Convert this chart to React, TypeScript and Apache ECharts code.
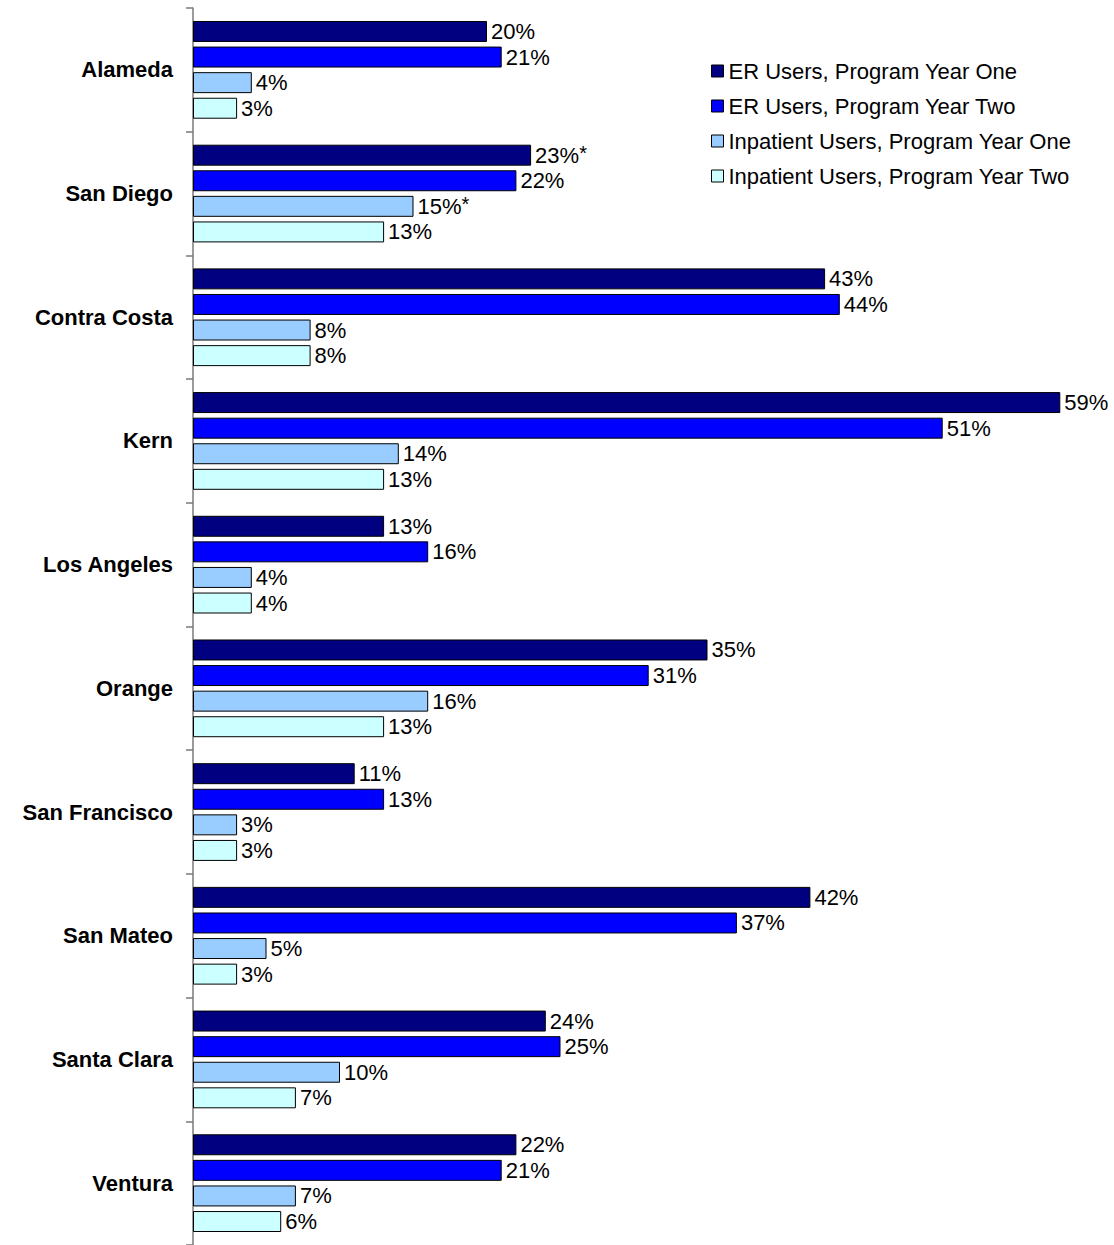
import React, { useEffect, useRef } from "react";
import * as echarts from "echarts";

const categories = [
  "Alameda",
  "San Diego",
  "Contra Costa",
  "Kern",
  "Los Angeles",
  "Orange",
  "San Francisco",
  "San Mateo",
  "Santa Clara",
  "Ventura",
];

const seriesNames = [
  "ER Users, Program Year One",
  "ER Users, Program Year Two",
  "Inpatient Users, Program Year One",
  "Inpatient Users, Program Year Two",
];

const erYearOne = [20, 23, 43, 59, 13, 35, 11, 42, 24, 22];
const erYearTwo = [21, 22, 44, 51, 16, 31, 13, 37, 25, 21];
const inpatientYearOne = [4, 15, 8, 14, 4, 16, 3, 5, 10, 7];
const inpatientYearTwo = [3, 13, 8, 13, 4, 13, 3, 3, 7, 6];

// significance markers: [seriesIndex, categoryIndex]
const starred = [
  [0, 1],
  [2, 1],
];

const colors = ["#000080", "#0000FF", "#99CCFF", "#CCFFFF"];

const FONT = "'Liberation Sans', Arial, sans-serif";

export default function App() {
  const ref = useRef<HTMLDivElement>(null);

  useEffect(() => {
    if (!ref.current) return;
    const chart = echarts.init(ref.current, undefined, { renderer: "svg" });
    const allData = [erYearOne, erYearTwo, inpatientYearOne, inpatientYearTwo];

    const series = allData.map((data, si) => ({
      name: seriesNames[si],
      type: "bar",
      data,
      barCategoryGap: "21%",
      barGap: "22%",
      itemStyle: { color: colors[si], borderColor: "#000", borderWidth: 1 },
      label: {
        show: true,
        position: "right",
        distance: 4,
        color: "#000",
        fontFamily: FONT,
        fontSize: 22,
        formatter: (p: any) => {
          const isStar = starred.some(([s, c]) => s === si && c === p.dataIndex);
          return isStar ? `{v|${p.value}%}{s|*}` : `{v|${p.value}%}`;
        },
        rich: {
          v: { fontFamily: FONT, fontSize: 22, color: "#000", lineHeight: 24 },
          s: {
            fontFamily: FONT,
            fontSize: 20,
            color: "#000",
            verticalAlign: "top",
            lineHeight: 10,
          },
        },
      },
    }));

    chart.setOption({
      animation: false,
      backgroundColor: "#fff",
      legend: {
        orient: "vertical",
        left: 706,
        top: 55,
        itemWidth: 12,
        itemHeight: 12,
        itemGap: 13,
        icon: "rect",
        itemStyle: { borderColor: "#000", borderWidth: 1 },
        textStyle: { fontFamily: FONT, fontSize: 22, color: "#000", padding: [0, 0, 0, 0] },
        data: seriesNames,
      },
      grid: { left: 193, top: 8, width: 882, height: 1238 },
      xAxis: {
        type: "value",
        min: 0,
        max: 60,
        show: false,
      },
      yAxis: {
        type: "category",
        data: categories,
        inverse: true,
        axisLine: { show: true, lineStyle: { color: "#7a7a7a", width: 1.5 } },
        axisTick: { show: true, length: 7, lineStyle: { color: "#7a7a7a", width: 1.5 } },
        axisLabel: {
          margin: 20,
          fontFamily: FONT,
          fontSize: 22,
          fontWeight: "bold",
          color: "#000",
        },
      },
      series,
    });

    return () => chart.dispose();
  }, []);

  return (
    <div
      ref={ref}
      style={{ position: "absolute", left: 0, top: 0, width: 1114, height: 1245 }}
    />
  );
}
